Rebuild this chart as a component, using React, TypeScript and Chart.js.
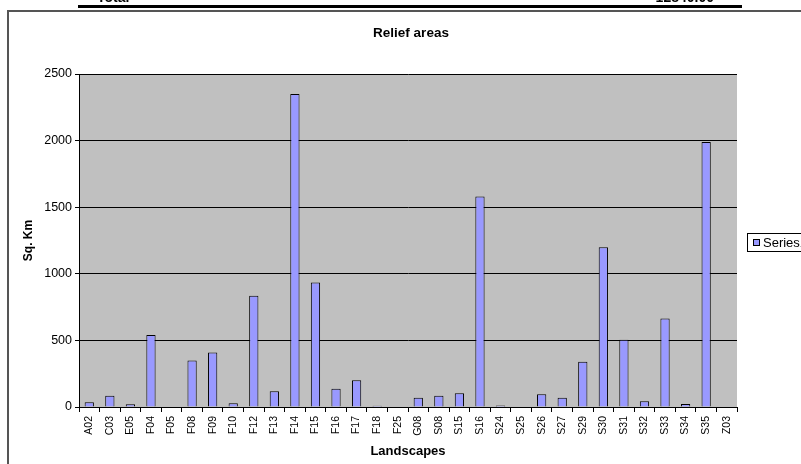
import React, { useEffect, useRef } from "react";
import { Chart, registerables } from "chart.js";

Chart.register(...registerables);

const categories = ["A02","C03","E05","F04","F05","F08","F09","F10","F12","F13","F14","F15","F16","F17","F18","F25","G08","S08","S15","S16","S24","S25","S26","S27","S29","S30","S31","S32","S33","S34","S35","Z03"];
const areas = [35,85,20,540,0,350,410,28,835,118,2350,935,137,200,10,3,70,85,103,1580,12,4,95,70,340,1200,505,43,665,22,1990,0];
const yTicks = [0, 500, 1000, 1500, 2000, 2500];
const seriesName = "Series1";
const titleText = "Relief areas";
const headerLabel = "Total";
const headerValue = "12840.00";

const FONT = "'Liberation Sans', Arial, sans-serif";

const decor = {
  id: "decor",
  beforeDraw(chart: any) {
    const { ctx, chartArea } = chart;
    ctx.save();
    ctx.fillStyle = "#ffffff";
    ctx.fillRect(0, 0, chart.width, chart.height);
    // header cut-off text and line
    ctx.fillStyle = "#000";
    ctx.font = `bold 14px ${FONT}`;
    ctx.textBaseline = "alphabetic";
    ctx.textAlign = "left";
    ctx.fillText(headerLabel, 97, 2);
    ctx.textAlign = "right";
    ctx.fillText(headerValue, 714, 2);
    ctx.fillRect(78, 5, 664, 3);
    // chart frame
    ctx.strokeStyle = "#555";
    ctx.lineWidth = 2;
    ctx.strokeRect(8, 11, 900, 600);
    // plot background
    ctx.fillStyle = "#C0C0C0";
    ctx.fillRect(chartArea.left, chartArea.top, chartArea.right - chartArea.left, chartArea.bottom - chartArea.top);
    ctx.restore();
  },
  afterDraw(chart: any) {
    const { ctx, chartArea } = chart;
    ctx.save();
    // title
    ctx.fillStyle = "#000";
    ctx.font = `bold 13.5px ${FONT}`;
    ctx.textAlign = "center";
    ctx.textBaseline = "middle";
    ctx.fillText(titleText, (chartArea.left + chartArea.right) / 2 + 3, 33.5);
    // legend
    ctx.strokeStyle = "#000";
    ctx.lineWidth = 1;
    ctx.strokeRect(747.5, 233.5, 80, 18);
    ctx.fillStyle = "#9999FF";
    ctx.fillRect(753.5, 239.5, 6, 6);
    ctx.strokeRect(753.5, 239.5, 6, 6);
    ctx.fillStyle = "#000";
    ctx.font = `13px ${FONT}`;
    ctx.textAlign = "left";
    ctx.textBaseline = "middle";
    ctx.fillText(seriesName, 763, 243);
    ctx.restore();
  },
};

export default function App() {
  const ref = useRef<HTMLCanvasElement>(null);
  useEffect(() => {
    if (!ref.current) return;
    const chart = new Chart(ref.current, {
      type: "bar",
      data: {
        labels: categories,
        datasets: [
          {
            label: seriesName,
            data: areas,
            backgroundColor: "#9999FF",
            borderColor: "#000000",
            borderWidth: 1,
            barPercentage: 0.45,
            categoryPercentage: 1,
          },
        ],
      },
      options: {
        responsive: false,
        animation: false,
        layout: { padding: { left: 7, right: 64, top: 74, bottom: 0 } },
        plugins: {
          legend: { display: false },
          tooltip: { enabled: false },
          title: { display: false },
        },
        scales: {
          x: {
            grid: {
              display: true,
              drawOnChartArea: false,
              drawTicks: true,
              tickLength: 5,
              color: "#000",
              offset: true,
            },
            border: { display: true, color: "#000" },
            ticks: {
              color: "#000",
              font: { family: FONT, size: 10.5 },
              minRotation: 90,
              maxRotation: 90,
              autoSkip: false,
              padding: 4,
            },
            title: {
              display: true,
              text: "Landscapes",
              color: "#000",
              font: { family: FONT, size: 13, weight: "bold", lineHeight: 1.2 },
              padding: { top: 0, bottom: 5 },
            },
            afterFit(scale: any) {
              scale.height = 57;
            },
          },
          y: {
            min: 0,
            max: 2500,
            afterBuildTicks(scale: any) {
              scale.ticks = yTicks.map((v) => ({ value: v }));
            },
            grid: {
              color: "#000",
              tickLength: 4,
              drawTicks: true,
            },
            border: { display: true, color: "#000" },
            ticks: {
              color: "#000",
              font: { family: FONT, size: 12.5 },
              padding: 3,
              callback: (v: any) => String(v),
            },
            title: {
              display: true,
              text: "Sq. Km",
              color: "#000",
              font: { family: FONT, size: 12, weight: "bold", lineHeight: 1.2 },
              padding: { top: 14, bottom: 0 },
            },
            afterFit(scale: any) {
              scale.width = 72;
            },
          },
        },
      },
      plugins: [decor],
    });
    return () => chart.destroy();
  }, []);
  return (
    <div style={{ position: "absolute", left: 0, top: 0, width: 801, height: 464 }}>
      <canvas ref={ref} width={801} height={464} style={{ display: "block" }} />
    </div>
  );
}
